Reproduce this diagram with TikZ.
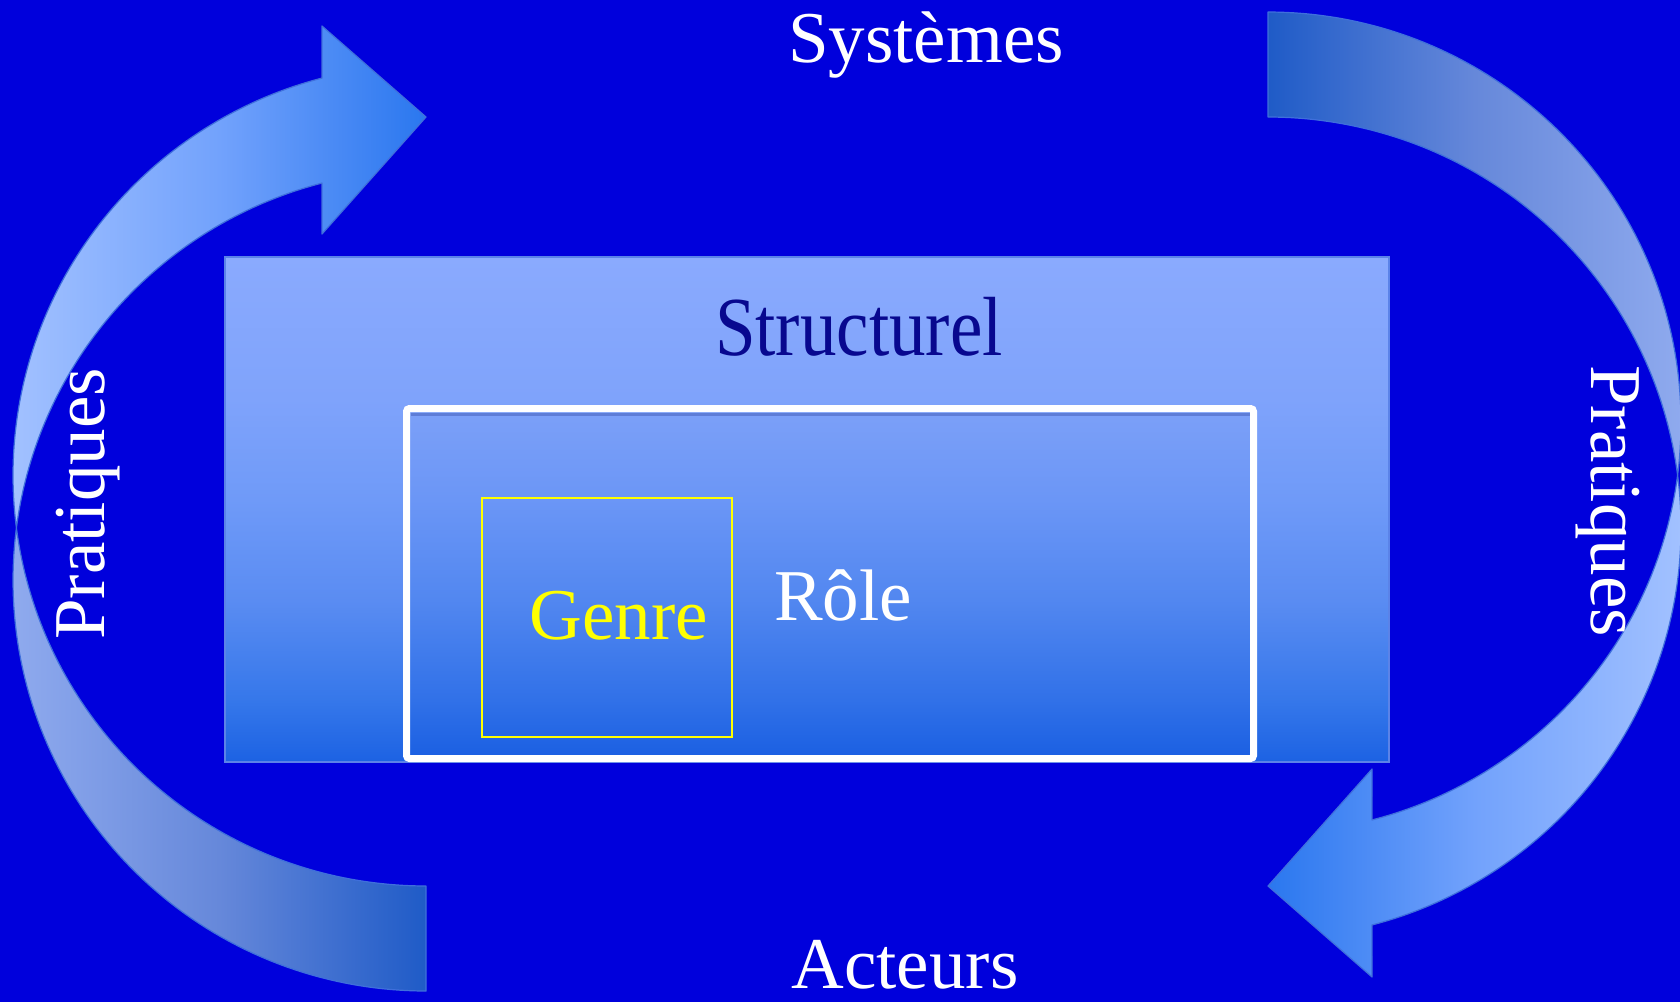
\documentclass[tikz,border=0pt]{standalone}
\usepackage{fontspec}
\setmainfont{Liberation Serif}

% palette
\definecolor{bgblue}{HTML}{0000DC}
\definecolor{frontL}{HTML}{A2C1FF}
\definecolor{frontM}{HTML}{72A2FC}
\definecolor{frontR}{HTML}{2A77EF}
\definecolor{backL}{HTML}{8FAAEE}
\definecolor{backM}{HTML}{6688DA}
\definecolor{backR}{HTML}{1F5BC7}
\definecolor{arrowedge}{HTML}{3F6FDC}
\definecolor{structedge}{HTML}{5B83E8}
\definecolor{structnavy}{HTML}{08088F}
\definecolor{genreyellow}{HTML}{FFFF00}
\definecolor{shadowblue}{HTML}{2A3F9A}
\definecolor{sA}{HTML}{1C62E3}
\definecolor{sB}{HTML}{3577EA}
\definecolor{sC}{HTML}{5A8CF2}
\definecolor{sD}{HTML}{6F9AF8}
\definecolor{sE}{HTML}{7FA3FB}
\definecolor{sF}{HTML}{8AAAFE}
\definecolor{iA}{HTML}{1A5FE2}
\definecolor{iB}{HTML}{3171E8}
\definecolor{iC}{HTML}{5287F0}
\definecolor{iD}{HTML}{6B96F6}
\definecolor{iE}{HTML}{7CA0F8}

% vertical gradients of the two framed areas (bbox maps to 25bp..75bp)
\pgfdeclareverticalshading{structshade}{100bp}{color(0bp)=(sA); color(25bp)=(sA);
  color(31bp)=(sB); color(41bp)=(sC); color(51bp)=(sD); color(61bp)=(sE);
  color(75bp)=(sF); color(100bp)=(sF)}
\pgfdeclareverticalshading{innershade}{100bp}{color(0bp)=(iA); color(25bp)=(iA);
  color(33.4bp)=(iB); color(47.7bp)=(iC); color(62bp)=(iD); color(75bp)=(iE);
  color(100bp)=(iE)}

\tikzset{
  bandline/.style={draw=arrowedge, line width=1.2pt, line join=round},
  txt/.style={inner sep=0pt, anchor=base, font=\fontsize{73}{80}\selectfont},
}

\begin{document}
\begin{tikzpicture}[x=1pt, y=-1pt]
  \useasboundingbox (0,0) rectangle (1680,1002);
  \fill[bgblue] (0,0) rectangle (1680,1002);

  % left curved arrow: crescent bands between two vertically offset ellipses
  % back band (lower part, from the tail round to the tip)
  \path[bandline, left color=backL, right color=backR, middle color=backM]
    plot[domain=187.35:90, samples=80, variable=\vt] ({426+413*cos(\vt)}, {580.4+410.6*sin(\vt)})
    -- plot[domain=90:172.65, samples=80, variable=\vt] ({426+413*cos(\vt)}, {475.4+410.6*sin(\vt)})
    -- cycle;
  % front band with head
  \path[bandline, left color=frontL, right color=frontR, middle color=frontM]
    plot[domain=255.42:172.65, samples=80, variable=\vt] ({426+413*cos(\vt)}, {475.4+410.6*sin(\vt)})
    -- plot[domain=187.35:255.42, samples=80, variable=\vt] ({426+413*cos(\vt)}, {580.4+410.6*sin(\vt)})
    -- (322,234) -- (426,117) -- (322,26) -- cycle;

  % right curved arrow: point reflection of the left one
  \path[bandline, left color=backR, right color=backL, middle color=backM]
    plot[domain=187.35:90, samples=80, variable=\vt] ({1268-413*cos(\vt)}, {422.6-410.6*sin(\vt)})
    -- plot[domain=90:172.65, samples=80, variable=\vt] ({1268-413*cos(\vt)}, {527.6-410.6*sin(\vt)})
    -- cycle;
  \path[bandline, left color=frontR, right color=frontL, middle color=frontM]
    plot[domain=255.42:172.65, samples=80, variable=\vt] ({1268-413*cos(\vt)}, {527.6-410.6*sin(\vt)})
    -- plot[domain=187.35:255.42, samples=80, variable=\vt] ({1268-413*cos(\vt)}, {422.6-410.6*sin(\vt)})
    -- (1372,769) -- (1268,886) -- (1372,977) -- cycle;

  % structural frame
  \shadedraw[shading=structshade, draw=structedge, line width=1.5pt]
    (225,257) rectangle (1389,762);

  % role frame with white border
  \shadedraw[shading=innershade, draw=white, line width=7pt, rounded corners=3pt]
    (406.5,408.5) rectangle (1253.5,758.5);
  \draw[shadowblue, opacity=0.35, line width=3pt] (410.5,414) -- (1249.5,414);

  % genre box
  \draw[genreyellow, line width=2pt] (482,498) rectangle (732,737);

  % labels
  \node[txt, text=white] (sys) at (926,62) {Systèmes};
  \node[txt, text=white] (act) at (905,988) {Acteurs};
  \node[txt, text=structnavy, yscale=1.15] (struct) at (859,355) {Structurel};
  \node[txt, text=genreyellow] (genre) at (619,639.5) {Genre};
  \node[txt, text=white] (role) at (843,620.5) {Rôle};
  \node[txt, text=white, rotate=90] (pratL) at (104,504) {Pratiques};
  \node[txt, text=white, rotate=-90] (pratR) at (1591,501) {Pratiques};
\end{tikzpicture}
\end{document}
